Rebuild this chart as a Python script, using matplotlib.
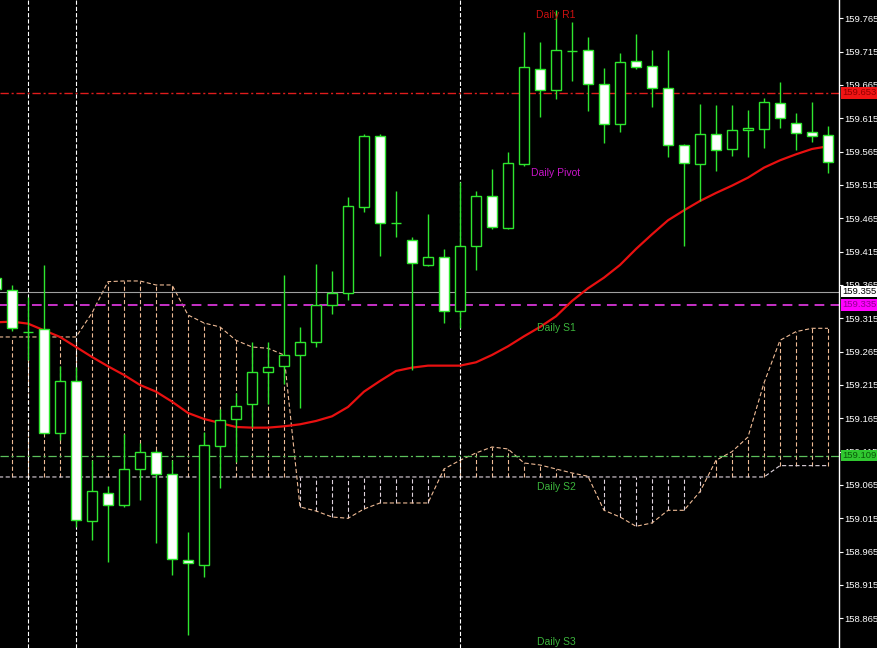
# coding:utf-8
"""
USDJPY style M-chart: candles, moving average, ichimoku cloud and daily pivots
"""
import numpy as np
import matplotlib
matplotlib.use('Agg')
import matplotlib.pyplot as plt
from matplotlib.transforms import blended_transform_factory

plt.rcParams['font.family'] = ['Liberation Sans', 'DejaVu Sans']
plt.rcParams['lines.scale_dashes'] = False

# ---- data (bar -1 is the half-hidden bar on the left edge) ----
opens = [159.375, 159.358, 159.295, 159.299, 159.143, 159.221, 159.011, 159.053, 159.035, 159.089,
         159.114, 159.082, 158.953, 158.945, 159.123, 159.164, 159.186, 159.234, 159.243, 159.260,
         159.280, 159.335, 159.353, 159.482, 159.588, 159.458, 159.432, 159.395, 159.407, 159.326,
         159.424, 159.499, 159.451, 159.547, 159.689, 159.657, 159.716, 159.717, 159.666, 159.606,
         159.701, 159.693, 159.661, 159.575, 159.547, 159.592, 159.569, 159.597, 159.599, 159.638,
         159.608, 159.594, 159.590]
highs = [159.378, 159.365, 159.347, 159.395, 159.243, 159.242, 159.102, 159.063, 159.141, 159.128,
         159.117, 159.102, 158.995, 159.145, 159.179, 159.203, 159.280, 159.280, 159.380, 159.302,
         159.396, 159.386, 159.497, 159.591, 159.591, 159.506, 159.437, 159.471, 159.419, 159.520,
         159.506, 159.539, 159.564, 159.744, 159.729, 159.777, 159.759, 159.737, 159.690, 159.713,
         159.742, 159.717, 159.717, 159.576, 159.636, 159.635, 159.635, 159.627, 159.646, 159.669,
         159.623, 159.639, 159.603]
lows = [159.355, 159.296, 159.252, 159.141, 159.132, 159.002, 158.982, 158.950, 159.032, 159.042,
        158.978, 158.930, 158.840, 158.927, 159.061, 159.100, 159.152, 159.186, 159.216, 159.180,
        159.272, 159.321, 159.342, 159.475, 159.409, 159.437, 159.237, 159.393, 159.308, 159.300,
        159.387, 159.449, 159.449, 159.544, 159.617, 159.644, 159.671, 159.626, 159.578, 159.595,
        159.689, 159.632, 159.557, 159.424, 159.491, 159.536, 159.559, 159.557, 159.571, 159.600,
        159.567, 159.580, 159.533]
closes = [159.359, 159.300, 159.295, 159.143, 159.221, 159.012, 159.056, 159.035, 159.089, 159.114,
          159.081, 158.954, 158.948, 159.125, 159.162, 159.183, 159.234, 159.242, 159.260, 159.279,
          159.335, 159.353, 159.483, 159.588, 159.458, 159.458, 159.398, 159.407, 159.326, 159.423,
          159.498, 159.452, 159.548, 159.692, 159.657, 159.717, 159.716, 159.666, 159.606, 159.699,
          159.692, 159.661, 159.575, 159.548, 159.591, 159.567, 159.597, 159.600, 159.639, 159.615,
          159.593, 159.588, 159.550]

# moving average (red)
ma = [159.309, 159.310, 159.307, 159.297, 159.287, 159.272, 159.257, 159.243, 159.230, 159.215,
      159.205, 159.190, 159.173, 159.164, 159.158, 159.152, 159.151, 159.151, 159.153, 159.156,
      159.161, 159.168, 159.182, 159.205, 159.221, 159.236, 159.241, 159.244, 159.244, 159.244,
      159.249, 159.260, 159.273, 159.288, 159.302, 159.318, 159.341, 159.360, 159.376, 159.395,
      159.419, 159.441, 159.462, 159.477, 159.491, 159.503, 159.514, 159.526, 159.541, 159.552,
      159.561, 159.569, 159.573]

# ichimoku senkou spans
span_a = [159.287, 159.287, 159.287, 159.287, 159.287, 159.287, 159.323, 159.370, 159.371, 159.371,
          159.365, 159.365, 159.320, 159.308, 159.302, 159.282, 159.272, 159.270, 159.260, 159.032,
          159.026, 159.017, 159.015, 159.029, 159.038, 159.038, 159.038, 159.038, 159.089, 159.102,
          159.113, 159.122, 159.119, 159.098, 159.095, 159.089, 159.083, 159.078, 159.027, 159.017,
          159.003, 159.008, 159.027, 159.027, 159.055, 159.102, 159.115, 159.137, 159.218, 159.282,
          159.295, 159.300, 159.300]
span_b = [159.077] * 49 + [159.094] * 4

# horizontal levels: price, colour, label text colour
level_prices = [159.653, 159.355, 159.335, 159.109]
level_colors = ['#e01c1c', '#a0a0a0', '#c832c8', '#5cc05c']
box_colors = ['#f01414', '#ffffff', '#ff00ff', '#30c830']
box_text_colors = ['#900000', '#000000', '#900090', '#0a5a0a']

# daily pivot labels
pivot_names = ['Daily R1', 'Daily Pivot', 'Daily S1', 'Daily S2', 'Daily S3']
pivot_prices = [159.770, 159.533, 159.300, 159.062, 158.829]
pivot_colors = ['#cc1010', '#c814c8', '#3cb43c', '#3cb43c', '#3cb43c']
pivot_bar = 34

# period separators (bar index)
separators = [1, 4, 28]

tick_prices = [158.865, 158.915, 158.965, 159.015, 159.065, 159.115, 159.165, 159.215, 159.265,
               159.315, 159.365, 159.415, 159.465, 159.515, 159.565, 159.615, 159.665, 159.715,
               159.765]

# ---- plot ----
fig = plt.figure(figsize=(8.78, 6.48), dpi=100, facecolor='black')
ax = fig.add_axes([0, 0, 839 / 878, 1], facecolor='black')

x = np.arange(len(opens)) - 1
o = np.array(opens)
c = np.array(closes)
sa = np.array(span_a)
sb = np.array(span_b)

# cloud histogram
sandy = '#f0bc96'
thistle = '#e0d4de'
hist_col = np.where(sa >= sb, sandy, thistle)
ax.vlines(x, np.minimum(sa, sb), np.maximum(sa, sb), colors=hist_col, lw=0.8,
          linestyles=[(0, (3, 1.8))], zorder=1)
ax.plot(x, sa, color=sandy, lw=0.8, ls=(0, (3, 1.8)), zorder=1)
ax.plot(x, sb, color=thistle, lw=0.8, ls=(0, (3, 1.8)), zorder=1)

# separators
for s in separators:
    ax.axvline(s, color='white', lw=0.8, ls=(0, (3, 1.5)), zorder=1.2)

# levels
ax.axhline(level_prices[0], color=level_colors[0], lw=1.0, ls=(0, (6, 2, 1.5, 2)), zorder=1.5)
ax.axhline(level_prices[1], color=level_colors[1], lw=0.8, zorder=1.5)
ax.axhline(level_prices[2], color=level_colors[2], lw=1.4, ls=(0, (7, 4.5)), zorder=1.5)
ax.axhline(level_prices[3], color=level_colors[3], lw=0.9, ls=(0, (6, 2, 1.5, 2)), zorder=1.5)

# moving average
ax.plot(x, ma, color='#e81010', lw=1.6, zorder=2.5, solid_capstyle='round')

# candles
green = '#2ee62e'
ax.vlines(x, lows, highs, color=green, lw=1, zorder=3)
up = c >= o
ax.bar(x, np.abs(c - o), bottom=np.minimum(o, c), width=0.6,
       color=np.where(up, 'black', 'white'), edgecolor=green, lw=1, zorder=4)

# pivot labels
for name, p, col in zip(pivot_names, pivot_prices, pivot_colors):
    ax.text(pivot_bar, p, name, color=col, fontsize=7.5, ha='center', va='center', zorder=5)

# axes
ax.set_xlim(-0.75, 51.6875)
ax.set_ylim(158.82046, 159.79245)
for side in ['left', 'top', 'bottom']:
    ax.spines[side].set_visible(False)
ax.spines['right'].set_color('white')
ax.spines['right'].set_linewidth(1)
ax.set_xticks([])
ax.yaxis.tick_right()
ax.set_yticks(tick_prices)
ax.set_yticklabels(['%.3f' % t for t in tick_prices])
ax.tick_params(axis='y', colors='white', labelcolor='white', labelsize=6.8, length=3, width=0.8, pad=0.8)

# price boxes on the scale
trans = blended_transform_factory(ax.transAxes, ax.transData)
for p, bc, tc in zip(level_prices, box_colors, box_text_colors):
    ax.text(1.0 + 3 / 839, p, '%.3f' % p, transform=trans, fontsize=6.8, color=tc,
            ha='left', va='center', clip_on=False, zorder=6,
            bbox=dict(boxstyle='square,pad=0.12', fc=bc, ec='none'))

plt.savefig('out.png', dpi=100, facecolor='black')
